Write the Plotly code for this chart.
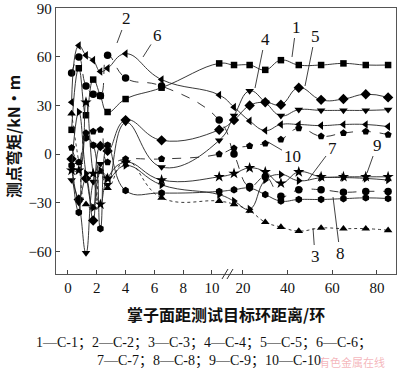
import plotly.graph_objects as go

# ---------------- data ----------------
x_near = [0.25, 0.75, 1.25, 1.75, 2.25, 2.75, 4, 6.5, 10.5]
x_far = [16, 23, 30, 37, 45, 55, 65, 75, 85]
rings = x_near + x_far

s1 = [15, 53, 24, 46, 36, 26, 34, 41, 56] + [55, 55, 52, 58, 55, 55, 56, 55, 55]
s2 = [50, 60, 42, 37, 36, 61, 47, 42, 21] + [0, -20, -14, -26, -22, -22, -23.5, -23, -23]
s3 = [25, -5, -31, -33, -11, -21, -4, -27, -29] + [-31, -35, -42, -45, -47.5, -45.6, -46, -46, -47]
s4 = [-16, -30, -61, -17, -6, -19, 19.5, -8, 8.5] + [23.7, 39, 32, 23.7, 27.4, 27, 27, 27, 27.4]
s5 = [-3, -28, -15, -41, 5, 2, 21, 8.5, 15] + [21, 30, 32, 30.5, 41, 33.5, 34, 37, 35]
s6 = [32, 67, 61, 58, 51, 53, 62, 46, 36.5] + [29, 20.5, 14.6, 18.3, 18.3, 17.6, 18.3, 18.3, 17]
s7 = [-9, 26, -12, -33, -10, -15, -7, -19, -25] + [-29, -34, -16, -12.6, -16.4, -14.6, -14.5, -15, -16]
s8 = [-7, -36, 10, 5.5, -46, 5.5, -22.5, -24, -23] + [-22, -21, -25, -29, -28, -28, -27.5, -27, -27.4]
s9 = [-10, -10, 32, -12, -31, -15, -5, -16, -14] + [-12, -8.5, -11, -18, -11, -14, -14, -14, -14]
s10 = [4, -5, 13, 14, 15, -5, -3, -3, 0] + [3.6, 5, 6.5, 9, 16, 11, 13, 14, 12]

series_values = [s1, s2, s3, s4, s5, s6, s7, s8, s9, s10]
series_names = ["C-1", "C-2", "C-3", "C-4", "C-5", "C-6", "C-7", "C-8", "C-9", "C-10"]
x_tick_values = [0, 2, 4, 6, 8, 10, 20, 40, 60, 80]
y_tick_values = [-60, -30, 0, 30, 60, 90]

# ---------------- styles ----------------
symbols = ["square", "circle", "triangle-up", "triangle-down", "diamond",
           "triangle-left", "triangle-right", "hexagon", "star", "pentagon"]
dashes = ["solid", "dash", "dot", "solid", "solid", "solid", "solid", "solid", "solid", "dash"]
msizes = [6.5, 7.5, 7.5, 7.5, 8, 7.5, 7.5, 7.5, 8.5, 7.5]


# broken-axis scale: 0..~12 linear, then compressed segment from 20 on
def broken_scale(v):
    return v if v <= 12 else 12.15 + (v - 20) * 0.1551


fig = go.Figure()
for vals, name, sym, dsh, ms in zip(series_values, series_names, symbols, dashes, msizes):
    fig.add_trace(go.Scatter(
        x=[broken_scale(v) for v in rings], y=vals, name=name,
        mode="lines+markers", cliponaxis=False,
        line=dict(color="#222", width=0.9, dash=dsh, shape="spline", smoothing=1.3),
        marker=dict(symbol=sym, size=ms, color="black", line=dict(width=0)),
        showlegend=False,
    ))

W, H = 400, 370
L, R, T, B = 56, 396, 8, 274

serif = "Liberation Serif"
mixed = "Liberation Serif, Noto Sans CJK SC"

fig.update_layout(
    width=W, height=H,
    margin=dict(l=L, r=W - R, t=T, b=H - B, autoexpand=False),
    paper_bgcolor="white", plot_bgcolor="white",
    font=dict(family=mixed, size=15, color="#111"),
    xaxis=dict(
        range=[-0.833, 22.78], automargin=False, ticklabeloverflow="allow",
        tickvals=[broken_scale(v) for v in x_tick_values],
        ticktext=[str(v) for v in x_tick_values],
        ticks="inside", ticklen=4, tickcolor="#444",
        showline=True, linecolor="#555", linewidth=1.3, mirror=True,
        showgrid=False, zeroline=False,
        tickfont=dict(family=serif, size=15, color="#111"),
    ),
    yaxis=dict(
        range=[-74, 90.2], automargin=False, ticklabeloverflow="allow",
        tickvals=y_tick_values,
        ticks="inside", ticklen=4, tickcolor="#444",
        showline=True, linecolor="#555", linewidth=1.3, mirror=True,
        showgrid=False, zeroline=False,
        tickfont=dict(family=serif, size=15, color="#111"),
    ),
)


def P(px, py):
    return (px - L) / (R - L), (B - py) / (B - T)


annotations = []
# series number labels with leader lines: (text, text_x, text_y, head_x, head_y) in pixels
leaders = [
    ("1", 296, 27, 292, 57),
    ("4", 265, 39, 255, 88),
    ("5", 315, 36, 305, 86),
    ("2", 126, 19, 117, 43),
    ("6", 157, 35, 143, 57),
    ("10", 292, 156, 268, 142),
    ("7", 332, 148, 308, 180),
    ("9", 377, 145, 367, 173),
    ("3", 315, 256, 313, 228),
    ("8", 340, 253, 333, 197),
]
for txt, tx, ty, hx, hy in leaders:
    x, y = P(hx, hy)
    annotations.append(dict(
        x=x, y=y, xref="paper", yref="paper", text=txt,
        showarrow=True, arrowhead=0, arrowwidth=0.8, arrowcolor="#111",
        ax=tx - hx, ay=ty - hy, axref="pixel", ayref="pixel",
        font=dict(family=serif, size=17, color="#111"),
    ))


def label(px, py, text, font, angle=0):
    x, y = P(px, py)
    return dict(x=x, y=y, xref="paper", yref="paper", showarrow=False,
                xanchor="center", yanchor="middle", textangle=angle,
                text=text, font=font)


annotations.append(label(226, 314, "<b>掌子面距测试目标环距离/环</b>",
                         dict(family="Noto Sans CJK SC", size=16, color="#111")))
annotations.append(label(13, 137, "<b>测点弯矩/kN·m</b>",
                         dict(family="Noto Sans CJK SC", size=16, color="#111"), angle=-90))

legend_line1 = "；".join(f"{i + 1}—{n}" for i, n in enumerate(series_names[:6])) + "；"
legend_line2 = "；".join(f"{i + 7}—{n}" for i, n in enumerate(series_names[6:]))
annotations.append(label(204, 343, legend_line1, dict(family=mixed, size=14, color="#111")))
annotations.append(label(209, 361, legend_line2, dict(family=mixed, size=14, color="#111")))
annotations.append(label(352, 362, "有色金属在线",
                         dict(family="Noto Sans CJK SC", size=11, color="rgba(235,120,130,0.55)")))

fig.update_layout(annotations=annotations)

# axis break mark "//"
shapes = []
for dx in (0, 5):
    x0, y0 = P(222 + dx, 279)
    x1, y1 = P(228 + dx, 269)
    shapes.append(dict(type="line", xref="paper", yref="paper", x0=x0, y0=y0, x1=x1, y1=y1,
                       line=dict(color="#333", width=1)))
fig.update_layout(shapes=shapes)

fig.write_html("out.html", config={"displayModeBar": False},
               post_script="document.body.style.margin='0';")
